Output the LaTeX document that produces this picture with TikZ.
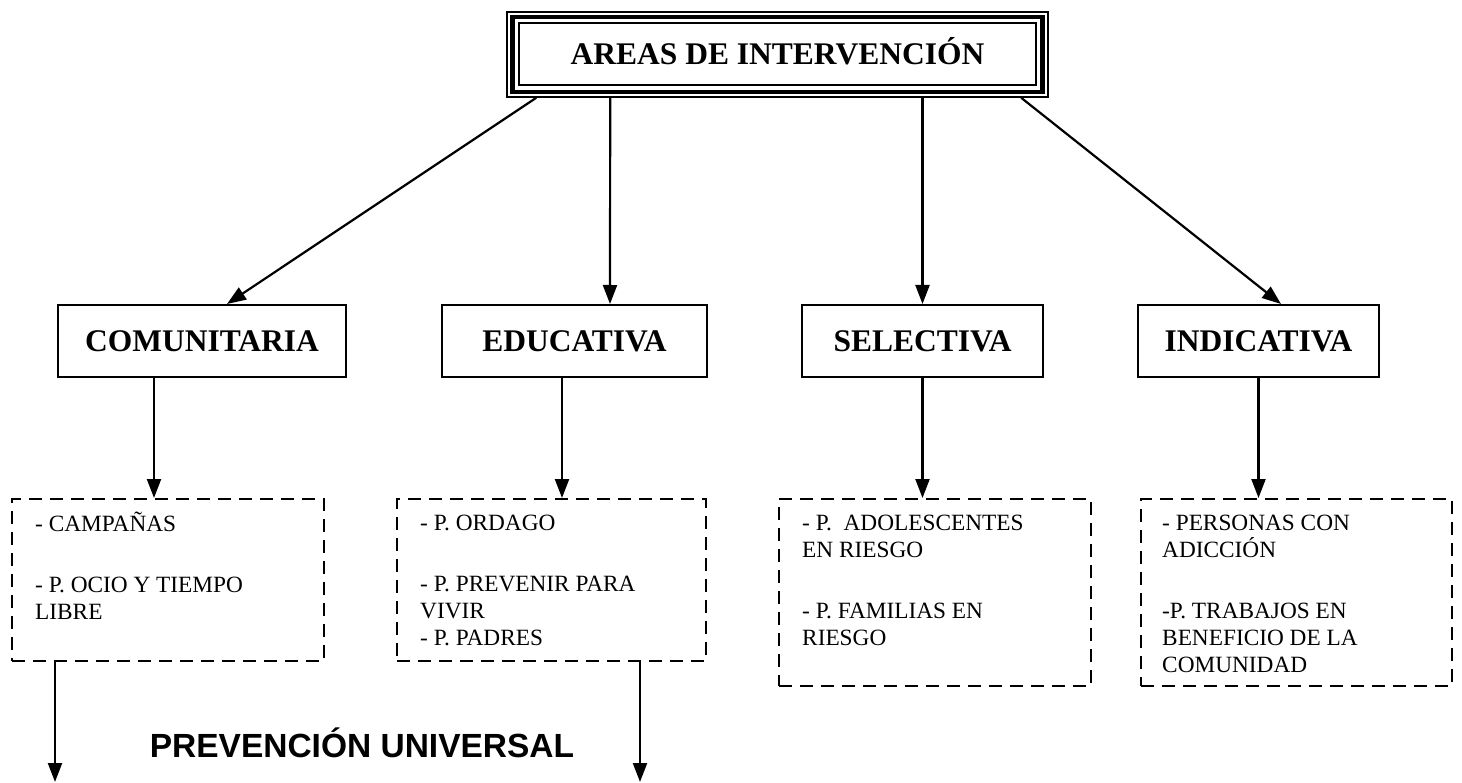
\documentclass[tikz,border=0pt]{standalone}
\usepackage{fontspec}
\setmainfont{Liberation Serif}
\newfontfamily\arialf{Liberation Sans}
\usetikzlibrary{arrows.meta,calc}
\begin{document}
\begin{tikzpicture}[x=1pt,y=-1pt,
  solidbox/.style={draw, line width=2pt, inner sep=0pt, font=\fontsize{31.5}{36}\selectfont\bfseries, text height=21pt, text depth=0pt, minimum height=72pt},
  dbox/.style={draw, line width=2pt, dash pattern=on 13pt off 8pt, inner sep=0pt, anchor=north west},
  dtext/.style={anchor=north west, inner sep=0pt, align=left, font=\fontsize{23.3}{27}\selectfont},
  arr/.style={line width=2.2pt, -{Triangle[length=19pt,width=14pt]}},
]
\useasboundingbox (0,0) rectangle (1462,783);
\fill[white] (0,0) rectangle (1462,783);

% top box
\node[draw, line width=1.6pt, minimum width=541pt, minimum height=85pt, inner sep=0pt,
      font=\fontsize{31.5}{36}\selectfont\bfseries, text height=21pt, text depth=0pt] (top) at (777.5,54.5) {AREAS DE INTERVENCIÓN};
\draw[line width=4.5pt] ($(top.north west)+(6.5,6)$) rectangle ($(top.south east)+(-6.5,-6)$);
\draw[line width=1.6pt] ($(top.north west)+(13,12)$) rectangle ($(top.south east)+(-13,-13)$);

% level 2
\node[solidbox, minimum width=288pt] (com) at (202,341) {COMUNITARIA};
\node[solidbox, minimum width=265pt] (edu) at (574.5,341) {EDUCATIVA};
\node[solidbox, minimum width=241pt] (sel) at (922.5,341) {SELECTIVA};
\node[solidbox, minimum width=241pt] (ind) at (1258.5,341) {INDICATIVA};

\draw[arr] ($(top.south west)+(30,0)$) -- ($(com.north west)+(170,0)$);
\draw[arr] ($(top.south west)+(104,0)$) -- ($(edu.north west)+(169,0)$);
\draw[arr] (top.south -| sel.north) -- (sel.north);
\draw[arr] ($(top.south west)+(515,0)$) -- ($(ind.north west)+(144,0)$);

% dashed boxes
\node[dbox, minimum width=312pt, minimum height=162pt] (d1) at (11,498) {};
\node[dbox, minimum width=309pt, minimum height=162pt] (d2) at (396,498) {};
\node[dbox, minimum width=312pt, minimum height=187pt] (d3) at (778,498) {};
\node[dbox, minimum width=311pt, minimum height=187pt] (d4) at (1140,498) {};

\coordinate (c1) at ($(com.south west)+(97,0)$);
\coordinate (c2) at ($(edu.south west)+(121,0)$);
\draw[arr] (c1) -- (c1 |- d1.north);
\draw[arr] (c2) -- (c2 |- d2.north);
\draw[arr] (sel.south) -- (sel.south |- d3.north);
\draw[arr] (ind.south) -- (ind.south |- d4.north);

\node[dtext] (t1) at ($(d1.north west)+(24,14)$) {\rule{0pt}{18pt}- CAMPAÑAS\\[34pt]- P. OCIO Y TIEMPO\\LIBRE};
\node[dtext] (t2) at ($(d2.north west)+(24,14)$) {\rule{0pt}{18pt}- P. ORDAGO\\[34pt]- P. PREVENIR PARA\\VIVIR\\- P. PADRES};
\node[dtext] (t3) at ($(d3.north west)+(24,14)$) {\rule{0pt}{18pt}- P.\ \ ADOLESCENTES\\EN RIESGO\\[34pt]- P. FAMILIAS EN\\RIESGO};
\node[dtext] (t4) at ($(d4.north west)+(22,14)$) {\rule{0pt}{18pt}- PERSONAS CON\\ADICCIÓN\\[34pt]-P. TRABAJOS EN\\BENEFICIO DE LA\\COMUNIDAD};

% bottom
\coordinate (e1) at (55,782);
\coordinate (e2) at (640,782);
\draw[arr] (e1 |- d1.south) -- (e1);
\draw[arr] (e2 |- d2.south) -- (e2);
\node[font=\arialf\bfseries\fontsize{33.5}{38}\selectfont, anchor=base, inner sep=0pt] (pu) at (362,757) {PREVENCIÓN UNIVERSAL};
\end{tikzpicture}
\end{document}
